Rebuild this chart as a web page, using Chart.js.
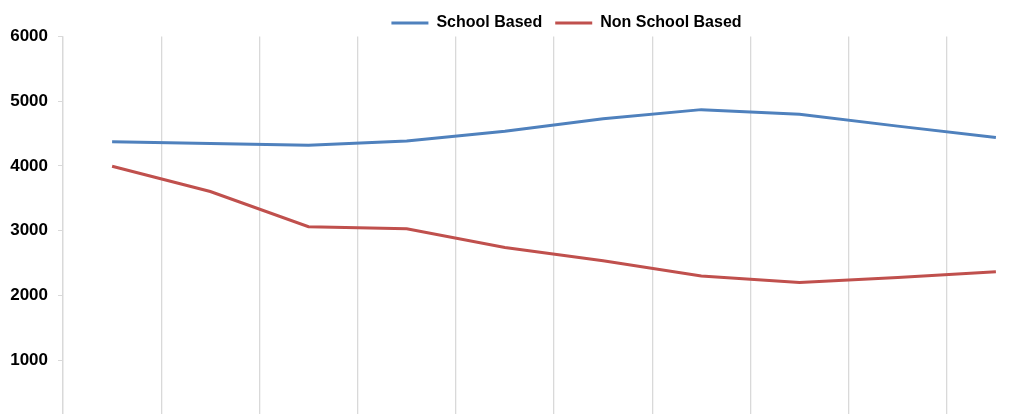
<!DOCTYPE html>
<html>
<head>
<meta charset="utf-8">
<script src="https://cdn.jsdelivr.net/npm/chart.js@4/dist/chart.umd.min.js"></script>
<style>
  html, body { margin: 0; padding: 0; background: #fff; overflow: hidden; }
  #wrap { width: 1024px; height: 414px; overflow: hidden; }
</style>
</head>
<body>
<div id="wrap"><canvas id="chart" width="1133" height="445"></canvas></div>
<script>
// categories are cut off below the visible area in the reference
const categories = ['1', '2', '3', '4', '5', '6', '7', '8', '9', '10'];
const schoolBased = [4375, 4345, 4320, 4385, 4535, 4730, 4870, 4800, 4615, 4440];
const nonSchoolBased = [3995, 3605, 3060, 3030, 2740, 2535, 2300, 2200, 2275, 2365];
const yTicks = [0, 1000, 2000, 3000, 4000, 5000, 6000];

const family = '"Liberation Sans", Arial, sans-serif';
const legendFont = { family, size: 16, weight: 'bold' };
const tickFont = { family, size: 17, weight: 'bold' };
const gridGray = '#d9d9d9';

new Chart(document.getElementById('chart'), {
  type: 'line',
  data: {
    labels: categories,
    datasets: [
      { label: 'School Based', data: schoolBased, borderColor: '#4f81bd', backgroundColor: '#4f81bd', borderWidth: 3, pointRadius: 0, tension: 0 },
      { label: 'Non School Based', data: nonSchoolBased, borderColor: '#c0504d', backgroundColor: '#c0504d', borderWidth: 3, pointRadius: 0, tension: 0 }
    ]
  },
  options: {
    responsive: false,
    devicePixelRatio: 1,
    animation: false,
    layout: { padding: { top: 2, left: 0, right: 0, bottom: 12 } },
    plugins: {
      tooltip: { enabled: false },
      legend: {
        position: 'top',
        maxHeight: 34.5,
        labels: { font: legendFont, color: '#000', boxWidth: 37, boxHeight: 0, padding: 13 }
      }
    },
    scales: {
      x: {
        offset: true,
        grid: { offset: true, color: gridGray, lineWidth: 1.3, drawTicks: false },
        border: { color: gridGray, width: 1.3 },
        ticks: { display: false },
        afterFit: s => { s.height = 0; }
      },
      y: {
        min: 0,
        max: 6000,
        afterBuildTicks: s => { s.ticks = yTicks.map(v => ({ value: v })); },
        grid: { drawOnChartArea: false, color: gridGray, tickLength: 5 },
        border: { color: gridGray, width: 1.3 },
        ticks: { font: tickFont, color: '#000', padding: 10, callback: v => String(v) },
        afterFit: s => { s.width = 63; }
      },
      // empty right axis, keeps the plot short of the canvas edge so the legend sits where the reference has it
      y2: {
        type: 'linear',
        position: 'right',
        grid: { display: false },
        border: { display: false },
        ticks: { display: false },
        afterFit: s => { s.width = 88; }
      }
    }
  }
});
</script>
</body>
</html>
